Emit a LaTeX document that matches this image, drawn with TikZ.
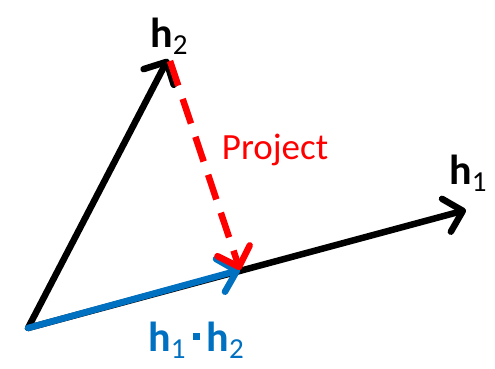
\documentclass[tikz,border=0pt]{standalone}
\usepackage{fontspec}
\setmainfont{Carlito}
\usetikzlibrary{arrows.meta}
\definecolor{projblue}{RGB}{0,112,192}
\definecolor{projred}{RGB}{255,0,0}
\newcommand{\hvec}[1]{\textbf{h}\raisebox{-0.35ex}{\fontsize{29}{32}\selectfont #1}}

\begin{document}
\begin{tikzpicture}[x=1pt,y=1pt,>={Straight Barb[length=17pt,width=34pt,round]},
  vec/.style={line width=6.5pt,line cap=round,->},
  lbl/.style={font=\fontsize{42}{48}\selectfont,inner sep=0pt}]
  \useasboundingbox (0,0) rectangle (495,369);
  \coordinate (orig) at (28,41);
  \coordinate (tipa) at (466,159);
  \coordinate (tipb) at (168,310);
  \coordinate (proj) at (240,99);
  \coordinate (drop) at (170,308);
  % vectors
  \draw[vec] (orig) -- (tipa);
  \draw[vec] (orig) -- (tipb);
  \draw[vec,projblue] (orig) -- (proj);
  \draw[vec,projred,line cap=butt,dash pattern=on 26pt off 14pt] (drop) -- (proj);
  % labels
  \node[lbl] (ha) at (468,196) {\hvec{1}};
  \node[lbl] (hb) at (169,333) {\hvec{2}};
  \node[lbl,projred,font=\fontsize{37}{42}\selectfont] (project) at (275,219) {Project};
  \node[lbl,projblue,anchor=north] (dot) at (196,47) {\hvec{1}\,\raisebox{0.6ex}{\rule{7pt}{7pt}}\,\hvec{2}};
\end{tikzpicture}
\end{document}
